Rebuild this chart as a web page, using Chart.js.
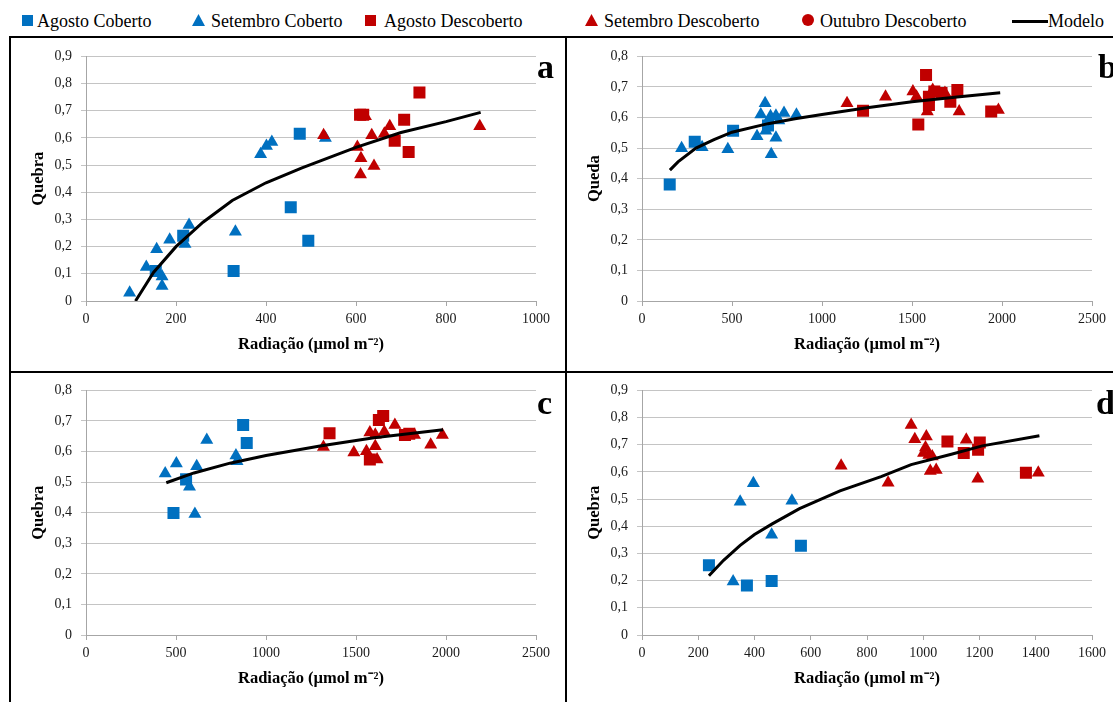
<!DOCTYPE html>
<html lang="pt">
<head>
<meta charset="UTF-8">
<title>Quebra e Queda em função da Radiação</title>
<script src="https://cdn.jsdelivr.net/npm/chart.js"></script>
<style>
  body {
    margin: 0;
    width: 1113px;
    height: 702px;
    overflow: hidden;
    background: #fff;
    position: relative;
    font-family: "Liberation Serif", "Times New Roman", serif;
  }
  canvas { position: absolute; }
  .leg {
    position: absolute;
    top: 11px;
    font-size: 18px;
    line-height: 20px;
    color: #000;
    white-space: nowrap;
  }
  .mk { position: absolute; }
  .sq { width: 11px; height: 11px; }
  .tri { width: 13px; height: 12px; clip-path: polygon(50% 0, 100% 100%, 0 100%); }
  .dot { width: 12px; height: 12px; border-radius: 50%; }
  .rule { position: absolute; background: #000; }
  .letter { position: absolute; font-weight: bold; font-size: 34px; line-height: 34px; color: #000; }
</style>
</head>
<body>

<!-- legend shared by the four panels -->
<div class="mk sq" style="left:22px;top:15px;background:#0070c0"></div>
<div class="leg" style="left:37px">Agosto Coberto</div>
<div class="mk tri" style="left:192px;top:14px;background:#0070c0"></div>
<div class="leg" style="left:211px">Setembro Coberto</div>
<div class="mk sq" style="left:365px;top:15px;background:#c00000"></div>
<div class="leg" style="left:384px">Agosto Descoberto</div>
<div class="mk tri" style="left:585px;top:14px;background:#c00000"></div>
<div class="leg" style="left:604px">Setembro Descoberto</div>
<div class="mk dot" style="left:802px;top:14px;background:#c00000"></div>
<div class="leg" style="left:820px">Outubro Descoberto</div>
<div class="mk" style="left:1012px;top:20px;width:36px;height:3px;background:#000"></div>
<div class="leg" style="left:1048px">Modelo</div>

<canvas id="chartA" width="554" height="332" style="left:11px;top:39px"></canvas>
<canvas id="chartB" width="554" height="332" style="left:567px;top:39px"></canvas>
<canvas id="chartC" width="554" height="332" style="left:11px;top:373px"></canvas>
<canvas id="chartD" width="554" height="332" style="left:567px;top:373px"></canvas>

<div class="letter" style="left:537px;top:50px">a</div>
<div class="letter" style="left:1098px;top:50px">b</div>
<div class="letter" style="left:537px;top:386px">c</div>
<div class="letter" style="left:1096px;top:386px">d</div>

<!-- panel frame -->
<div class="rule" style="left:9px;top:36px;width:1104px;height:2px"></div>
<div class="rule" style="left:9px;top:371px;width:1104px;height:2px"></div>
<div class="rule" style="left:9px;top:36px;width:2px;height:666px"></div>
<div class="rule" style="left:565px;top:36px;width:2px;height:666px"></div>

<script>
  // ---- painel a ----
  const aAgostoCoberto = [[155,0.11],[216,0.24],[328,0.11],[455,0.345],[475,0.615],[494,0.222]];
  const aSetembroCoberto = [[97,0.03],[134,0.125],[157,0.19],[169,0.09],[169,0.055],[186,0.225],[220,0.21],[229,0.28],[332,0.255],[388,0.54],[401,0.57],[413,0.585],[532,0.6]];
  const aAgostoDescoberto = [[609,0.685],[616,0.685],[686,0.59],[707,0.667],[717,0.548],[741,0.767]];
  const aSetembroDescoberto = [[528,0.61],[603,0.567],[611,0.525],[610,0.465],[621,0.68],[635,0.61],[640,0.497],[663,0.615],[675,0.643],[875,0.643]];
  const aModelo = [[110,0],[150,0.105],[200,0.2],[260,0.29],[325,0.37],[400,0.435],[480,0.49],[600,0.565],[700,0.62],[800,0.66],[877,0.694]];

  // ---- painel b ----
  const bAgostoCoberto = [[154,0.381],[293,0.521],[506,0.557],[700,0.574]];
  const bSetembroCoberto = [[220,0.5],[334,0.503],[477,0.496],[639,0.539],[660,0.61],[684,0.647],[688,0.557],[714,0.604],[718,0.48],[744,0.606],[744,0.534],[760,0.59],[789,0.615],[858,0.609]];
  const bAgostoDescoberto = [[1228,0.622],[1535,0.577],[1578,0.739],[1594,0.641],[1594,0.668],[1624,0.685],[1664,0.68],[1713,0.652],[1752,0.69],[1940,0.62]];
  const bSetembroDescoberto = [[1139,0.647],[1353,0.668],[1505,0.685],[1525,0.668],[1585,0.62],[1615,0.69],[1683,0.68],[1762,0.62],[1980,0.625]];
  const bModelo = [[155,0.428],[200,0.455],[300,0.5],[400,0.528],[500,0.552],[700,0.58],[850,0.596],[1000,0.61],[1250,0.632],[1500,0.652],[1750,0.667],[1990,0.681]];

  // ---- painel c ----
  const cAgostoCoberto = [[486,0.399],[556,0.509],[873,0.687],[893,0.628]];
  const cSetembroCoberto = [[440,0.528],[502,0.561],[575,0.485],[605,0.396],[615,0.552],[671,0.638],[833,0.587],[839,0.568]];
  const cAgostoDescoberto = [[1353,0.66],[1577,0.574],[1627,0.703],[1651,0.716],[1772,0.654],[1796,0.658]];
  const cSetembroDescoberto = [[1319,0.615],[1488,0.597],[1558,0.601],[1577,0.662],[1607,0.617],[1607,0.655],[1617,0.574],[1657,0.665],[1716,0.687],[1825,0.654],[1915,0.622],[1980,0.654]];
  const cModelo = [[446,0.498],[600,0.53],[800,0.562],[1000,0.587],[1300,0.618],[1600,0.645],[1984,0.671]];

  // ---- painel d ----
  const dAgostoCoberto = [[238,0.257],[373,0.182],[461,0.199],[565,0.328]];
  const dSetembroCoberto = [[324,0.197],[349,0.49],[396,0.558],[461,0.369],[533,0.494]];
  const dAgostoDescoberto = [[1086,0.712],[1144,0.67],[1195,0.682],[1201,0.708],[1365,0.597]];
  const dSetembroDescoberto = [[708,0.623],[875,0.56],[957,0.773],[970,0.72],[1001,0.67],[1008,0.69],[1011,0.73],[1020,0.662],[1025,0.603],[1032,0.657],[1046,0.607],[1153,0.718],[1194,0.575],[1409,0.597]];
  const dModelo = [[238,0.218],[290,0.275],[349,0.33],[400,0.37],[463,0.409],[560,0.465],[704,0.53],[850,0.583],[957,0.627],[1100,0.665],[1210,0.696],[1413,0.733]];

  const AZUL = '#0070c0';
  const VERMELHO = '#c00000';
  const SERIF = "'Liberation Serif', 'Times New Roman', serif";

  Chart.defaults.font.family = SERIF;

  function pts(list) {
    return list.map(p => ({ x: p[0], y: p[1] }));
  }

  // 0,1 0,2 ... with a decimal comma
  function virgula(v) {
    const r = Math.round(v * 10) / 10;
    return r === 0 ? '0' : r.toFixed(1).replace('.', ',');
  }

  function marcador(label, data, color, style, radius, order) {
    return {
      label: label,
      data: pts(data),
      backgroundColor: color,
      borderColor: color,
      borderWidth: 0,
      pointStyle: style,
      pointRadius: radius,
      pointHoverRadius: radius,
      showLine: false,
      order: order
    };
  }

  function painel(id, xMax, xStep, yMax, yTitle, agCob, setCob, agDesc, setDesc, modelo) {
    new Chart(document.getElementById(id), {
      type: 'scatter',
      data: {
        datasets: [
          marcador('Agosto Coberto', agCob, AZUL, 'rect', 8.5, 5),
          marcador('Setembro Coberto', setCob, AZUL, 'triangle', 7.5, 4),
          marcador('Agosto Descoberto', agDesc, VERMELHO, 'rect', 8.5, 3),
          marcador('Setembro Descoberto', setDesc, VERMELHO, 'triangle', 7.5, 2),
          {
            label: 'Modelo',
            data: pts(modelo),
            showLine: true,
            borderColor: '#000',
            borderWidth: 3,
            pointRadius: 0,
            pointHoverRadius: 0,
            tension: 0,
            fill: false,
            order: 1
          }
        ]
      },
      options: {
        responsive: false,
        animation: false,
        events: [],
        layout: { padding: { left: 0, right: 29, top: 15, bottom: 0 } },
        plugins: {
          legend: { display: false },
          tooltip: { enabled: false }
        },
        scales: {
          x: {
            type: 'linear',
            min: 0,
            max: xMax,
            afterFit: s => { s.height = 70; },
            ticks: {
              stepSize: xStep,
              padding: 5,
              color: '#1a1a1a',
              font: { family: SERIF, size: 14 },
              callback: v => String(v)
            },
            grid: { drawOnChartArea: false, tickLength: 5, color: '#a6a6a6' },
            border: { color: '#a6a6a6', width: 1 },
            title: {
              display: true,
              text: 'Radiação (µmol m⁻²)',
              color: '#000',
              font: { family: SERIF, size: 16.5, weight: 'bold' },
              padding: { top: 0, bottom: 16 }
            }
          },
          y: {
            min: 0,
            max: yMax,
            afterFit: s => { s.width = 75; },
            ticks: {
              stepSize: 0.1,
              padding: 9,
              color: '#1a1a1a',
              font: { family: SERIF, size: 14 },
              callback: v => virgula(v)
            },
            grid: { color: '#c4c4c4', tickLength: 5 },
            border: { color: '#a6a6a6', width: 1 },
            title: {
              display: true,
              text: yTitle,
              color: '#000',
              font: { family: SERIF, size: 16.5, weight: 'bold' },
              padding: { top: 18, bottom: 0 }
            }
          }
        }
      }
    });
  }

  painel('chartA', 1000, 200, 0.9, 'Quebra', aAgostoCoberto, aSetembroCoberto, aAgostoDescoberto, aSetembroDescoberto, aModelo);
  painel('chartB', 2500, 500, 0.8, 'Queda', bAgostoCoberto, bSetembroCoberto, bAgostoDescoberto, bSetembroDescoberto, bModelo);
  painel('chartC', 2500, 500, 0.8, 'Quebra', cAgostoCoberto, cSetembroCoberto, cAgostoDescoberto, cSetembroDescoberto, cModelo);
  painel('chartD', 1600, 200, 0.9, 'Quebra', dAgostoCoberto, dSetembroCoberto, dAgostoDescoberto, dSetembroDescoberto, dModelo);
</script>
</body>
</html>
